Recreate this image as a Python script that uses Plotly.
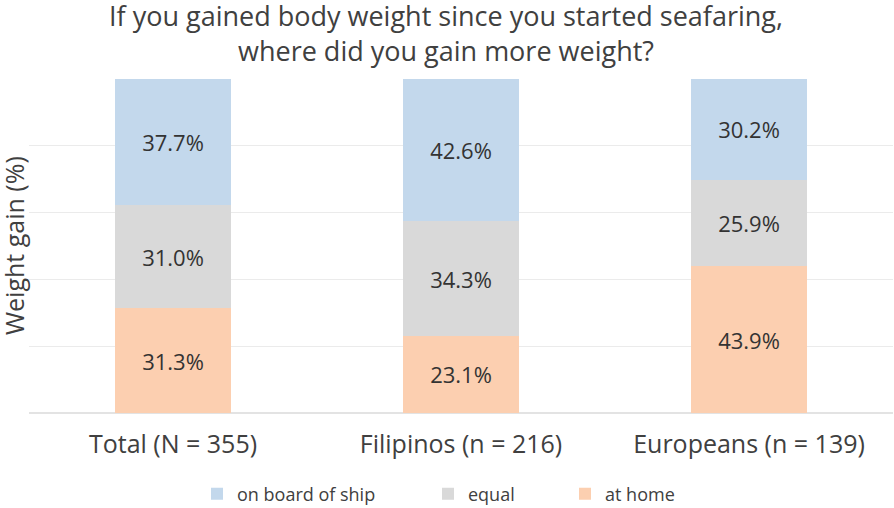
import plotly.graph_objects as go

categories = ["Total (N = 355)", "Filipinos (n = 216)", "Europeans (n = 139)"]
at_home = [31.3, 23.1, 43.9]
equal = [31.0, 34.3, 25.9]
on_board = [37.7, 42.6, 30.2]

series = [
    ("at home", at_home, "#FCCFB0", "legend3"),
    ("equal", equal, "#D9D9D9", "legend2"),
    ("on board of ship", on_board, "#C3D8EC", "legend"),
]

FONT = "Open Sans, Noto Sans, sans-serif"
W, H = 894, 508
L, R, T, B = 29, 1, 79, 95

fig = go.Figure()
for name, vals, color, lg in series:
    fig.add_trace(go.Bar(
        x=categories, y=vals, name=name, legend=lg, showlegend=True,
        marker=dict(color=color, line=dict(width=0)),
        text=[f"{v:.1f}%" for v in vals],
        textposition="inside", insidetextanchor="middle",
        textfont=dict(size=22, color="#333333", family=FONT),
        hoverinfo="skip",
    ))

legend_common = dict(orientation="h", xref="container", yref="container",
                     xanchor="left", yanchor="middle", y=1 - 494 / H,
                     font=dict(size=18, color="#404040", family=FONT),
                     bgcolor="rgba(0,0,0,0)", itemwidth=30, visible=True)

fig.update_layout(
    barmode="stack",
    bargap=0.6,
    showlegend=True,
    width=W, height=H,
    margin=dict(l=L, r=R, t=T, b=B, autoexpand=False),
    plot_bgcolor="white", paper_bgcolor="white",
    font=dict(family=FONT, color="#404040"),
    title=dict(
        text="If you gained body weight since you started seafaring,<br>where did you gain more weight?",
        x=446 / W, xref="container", xanchor="center",
        y=1 - 26 / H, yref="container", yanchor="middle",
        font=dict(size=27, color="#404040", family=FONT),
    ),
    legend=dict(x=197 / W, **legend_common),
    legend2=dict(x=428 / W, **legend_common),
    legend3=dict(x=565 / W, **legend_common),
    annotations=[dict(
        text="Weight gain (%)", textangle=-90,
        xref="paper", yref="paper", x=(14 - L) / (W - L - R), y=0.5,
        xanchor="center", yanchor="middle", showarrow=False,
        font=dict(size=25, color="#404040", family=FONT),
    )],
)
fig.update_xaxes(showgrid=False, showline=False, ticks="", ticklabelstandoff=14,
                 tickfont=dict(size=25, color="#404040"))
fig.update_yaxes(range=[0, 100], dtick=20, showgrid=True, gridcolor="#EBEBEB", gridwidth=1,
                 showticklabels=False, zeroline=True, zerolinecolor="#E3E3E3")

fig.write_html("out.html", config={"displayModeBar": False},
               post_script="document.body.style.margin='0';")
